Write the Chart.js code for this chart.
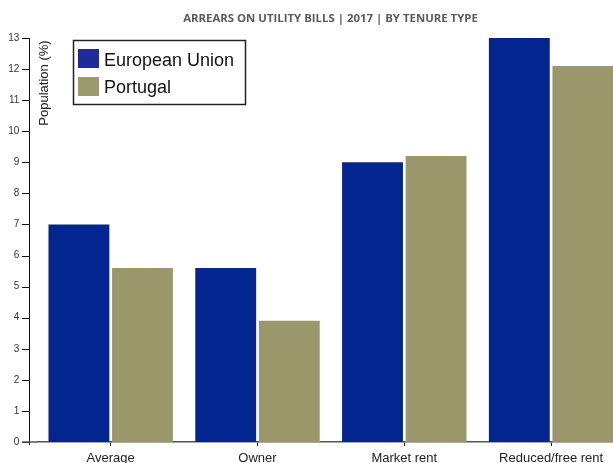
<!DOCTYPE html>
<html>
<head>
<meta charset="utf-8">
<script src="https://cdn.jsdelivr.net/npm/chart.js@4/dist/chart.umd.min.js"></script>
<style>
  html, body { margin: 0; padding: 0; background: #fff; overflow: hidden; }
  #wrap { width: 613px; height: 463px; overflow: hidden; position: relative; }
  canvas { display: block; }
</style>
</head>
<body>
<div id="wrap"><canvas id="chart" width="630" height="463"></canvas></div>
<script>
// chart data
const chartTitle = 'ARREARS ON UTILITY BILLS | 2017 | BY TENURE TYPE';
const categories = ['Average', 'Owner', 'Market rent', 'Reduced/free rent'];
const euValues = [7.0, 5.6, 9.0, 13.0];
const ptValues = [5.6, 3.9, 9.2, 12.1];
const seriesNames = ['European Union', 'Portugal'];
const yTitle = 'Population (%)';

const EU_COLOR = '#022590';
const PT_COLOR = '#9a976b';

// axis lines, legend box, titles
const extras = {
  id: 'extras',
  afterDraw(chart) {
    const ctx = chart.ctx;
    const y = chart.scales.y;
    const area = chart.chartArea;
    const axisX = 29.5;
    ctx.save();

    // y axis line + ticks
    ctx.strokeStyle = '#111';
    ctx.lineWidth = 1;
    ctx.beginPath();
    ctx.moveTo(axisX, area.top);
    ctx.lineTo(axisX, area.bottom + 3);
    y.ticks.forEach(t => {
      const py = Math.round(y.getPixelForValue(t.value)) + 0.5;
      ctx.moveTo(22, py);
      ctx.lineTo(axisX, py);
    });
    ctx.stroke();

    // extend x axis line to the left
    ctx.strokeStyle = '#555';
    ctx.lineWidth = 1.5;
    ctx.beginPath();
    ctx.moveTo(22, area.bottom);
    ctx.lineTo(area.left, area.bottom);
    ctx.stroke();

    // y title
    ctx.fillStyle = '#222';
    ctx.font = '13px "Liberation Sans", Arial, sans-serif';
    ctx.translate(44, 83);
    ctx.rotate(-Math.PI / 2);
    ctx.textAlign = 'center';
    ctx.textBaseline = 'middle';
    ctx.fillText(yTitle, 0, 0);
    ctx.setTransform(1, 0, 0, 1, 0, 0);

    // legend
    ctx.strokeStyle = '#222';
    ctx.lineWidth = 1.5;
    ctx.strokeRect(73.5, 40.5, 172, 64);
    const ds = chart.data.datasets;
    ctx.font = '18px "Liberation Sans", Arial, sans-serif';
    ctx.textAlign = 'left';
    ctx.textBaseline = 'alphabetic';
    ds.forEach((d, i) => {
      const top = 49 + i * 28;
      ctx.fillStyle = i === 0 ? '#1f2a9b' : '#9b9a6c';
      ctx.fillRect(78, top, 21, 19);
      ctx.fillStyle = '#111';
      ctx.fillText(d.label, 104, 66 + i * 26.5);
    });

    // chart title
    ctx.fillStyle = '#5a5a5a';
    ctx.font = 'bold 11.4px "Open Sans", sans-serif';
    ctx.textAlign = 'center';
    ctx.textBaseline = 'middle';
    ctx.fillText(chartTitle, 330.5, 19);

    ctx.restore();
  }
};

new Chart(document.getElementById('chart'), {
  type: 'bar',
  data: {
    labels: categories,
    datasets: [
      { label: seriesNames[0], data: euValues, backgroundColor: EU_COLOR },
      { label: seriesNames[1], data: ptValues, backgroundColor: PT_COLOR }
    ]
  },
  options: {
    responsive: false,
    animation: false,
    events: [],
    categoryPercentage: 0.866,
    barPercentage: 0.9575,
    layout: { padding: { top: 38, right: 5.5, left: 0, bottom: 0 } },
    plugins: {
      legend: { display: false },
      title: { display: false },
      tooltip: { enabled: false }
    },
    scales: {
      x: {
        afterFit: s => { s.height = 21; s.paddingTop = 0; s.paddingBottom = 0; },
        border: { display: true, color: '#555', width: 1.5 },
        grid: { drawOnChartArea: false, offset: false, tickLength: 4, color: '#222' },
        ticks: {
          padding: 5,
          color: '#222',
          font: { family: '"Liberation Sans", Arial, sans-serif', size: 13 },
          maxRotation: 0
        }
      },
      y: {
        min: 0,
        max: 13,
        afterFit: s => { s.width = 37.3; s.paddingBottom = 0; },
        border: { display: false },
        grid: { display: false, drawTicks: false },
        ticks: {
          stepSize: 1,
          padding: 18,
          color: '#333',
          font: { family: '"Liberation Sans", Arial, sans-serif', size: 10 }
        }
      }
    }
  },
  plugins: [extras]
});
</script>
</body>
</html>
